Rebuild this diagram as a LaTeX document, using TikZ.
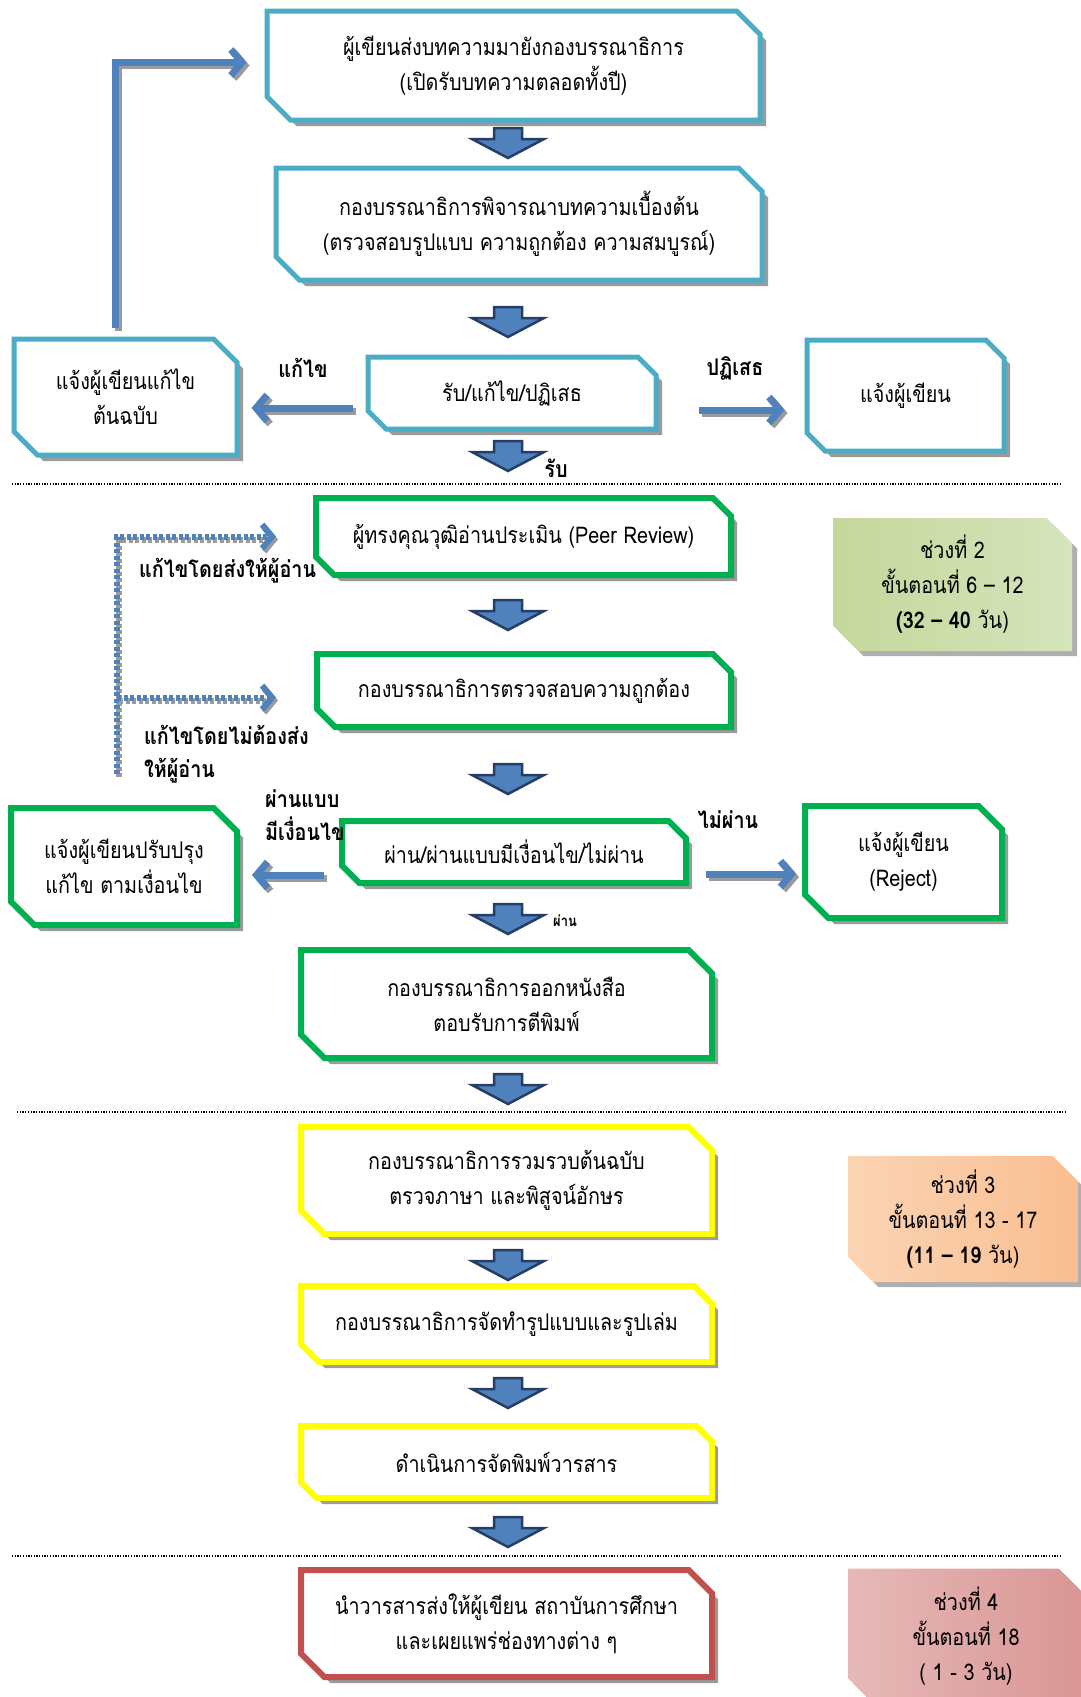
\documentclass[tikz,border=0pt]{standalone}
\usepackage{fontspec}
\setmainfont[Script=Thai,FakeStretch=0.86]{Loma}
\usetikzlibrary{shapes.misc,shadows,arrows.meta,calc,positioning}
\definecolor{boxteal}{RGB}{75,172,198}
\definecolor{boxgreen}{RGB}{0,176,80}
\definecolor{boxyellow}{RGB}{255,255,0}
\definecolor{boxred}{RGB}{192,80,77}
\definecolor{arrowblue}{RGB}{79,129,189}
\definecolor{arrownavy}{RGB}{36,62,102}
\definecolor{shadowgray}{RGB}{155,155,155}
\definecolor{greenA}{RGB}{196,215,155}
\definecolor{greenB}{RGB}{235,241,222}
\definecolor{greenC}{RGB}{214,228,188}
\definecolor{peachA}{RGB}{251,212,180}
\definecolor{peachB}{RGB}{253,236,224}
\definecolor{peachC}{RGB}{249,190,145}
\definecolor{roseA}{RGB}{230,185,184}
\definecolor{roseB}{RGB}{242,220,219}
\definecolor{roseC}{RGB}{217,150,148}
\newcommand{\boxfont}{\fontsize{23}{35}\selectfont}
\newcommand{\labfont}{\fontsize{23}{33}\selectfont\bfseries}
\tikzset{blockarrow/.pic={
  \draw[line width=2.5pt,draw=arrownavy,fill=arrowblue,line join=miter]
    (-14,-15) -- (14,-15) -- (14,-4) -- (36,-4) -- (0,15) -- (-36,-4) -- (-14,-4) -- cycle;}}

\begin{document}
\begin{tikzpicture}[x=1pt,y=-1pt,
    flowbox/.style={chamfered rectangle,chamfered rectangle corners={north east,south west},
      chamfered rectangle xsep=20pt,draw,fill=white,line width=5pt,align=center,
      font=\boxfont,inner sep=2pt,
      drop shadow={shadow xshift=6pt,shadow yshift=-6pt,fill=shadowgray,opacity=1}},
    phasebox/.style={chamfered rectangle,chamfered rectangle corners={north east,south west},
      chamfered rectangle xsep=22pt,align=center,font=\boxfont,inner sep=2pt,
      drop shadow={shadow xshift=5pt,shadow yshift=-5pt,fill=shadowgray!80,opacity=1}},
    sidearrow/.style={draw=arrowblue,line width=7pt,-{Straight Barb[length=11pt,width=26pt]},
      preaction={draw=shadowgray,line width=7pt,-{Straight Barb[length=11pt,width=26pt]},
        transform canvas={shift={(3,3)}}}},
    dotarrow/.style={draw=arrowblue,line width=6pt,dash pattern=on 4pt off 2.5pt,
      -{Straight Barb[length=10pt,width=24pt]},
      preaction={draw=shadowgray,line width=6pt,dash pattern=on 4pt off 2.5pt,
        -{Straight Barb[length=10pt,width=24pt]},transform canvas={shift={(2,3)}}}},
    lab/.style={font=\labfont,inner sep=0pt},
    sepline/.style={line width=1.3pt,dash pattern=on 1.3pt off 1.4pt}]
  \path[use as bounding box,clip] (0,0) rectangle (1081,1697);

  % stage 1
  \node[flowbox,draw=boxteal,minimum width=493pt,minimum height=109pt] (b1) at (513.5,65.5)
    {ผู้เขียนส่งบทความมายังกองบรรณาธิการ\\(เปิดรับบทความตลอดทั้งปี)};
  \node[flowbox,draw=boxteal,minimum width=486pt,minimum height=112pt] (b2) at (519,224)
    {กองบรรณาธิการพิจารณาบทความเบื้องต้น\\(ตรวจสอบรูปแบบ ความถูกต้อง ความสมบูรณ์)};
  \node[flowbox,draw=boxteal,minimum width=288pt,minimum height=72pt] (b3) at (512,393)
    {รับ/แก้ไข/ปฏิเสธ};
  \node[flowbox,draw=boxteal,minimum width=223pt,minimum height=116pt] (fix1) at (125.5,397)
    {แจ้งผู้เขียนแก้ไข\\ต้นฉบับ};
  \node[flowbox,draw=boxteal,minimum width=197pt,minimum height=111pt] (rej1) at (905.5,395.5)
    {แจ้งผู้เขียน};

  \draw[sidearrow] ([xshift=-13pt,yshift=-15pt]b3.west) -- ([xshift=12pt,yshift=-15pt]b3.west -| fix1.east);
  \draw[sidearrow] ([xshift=40pt,yshift=-17pt]b3.east) -- ([xshift=-20pt,yshift=-17pt]b3.east -| rej1.west);
  \draw[sidearrow] ([xshift=-10pt,yshift=9pt]fix1.north) |- ([xshift=-18pt,yshift=3pt]b1.west);
  \node[lab] (lfix) at (303,368) {แก้ไข};
  \node[lab] (lrej) at (735,368) {ปฏิเสธ};
  \node[lab] (lacc) at (556,468) {รับ};

  \draw[sepline] (12,484) -- (1062,484);

  % stage 2
  \node[flowbox,draw=boxgreen,line width=6pt,minimum width=415pt,minimum height=77pt] (b4) at (523.5,536.5)
    {ผู้ทรงคุณวุฒิอ่านประเมิน (Peer Review)};
  \node[flowbox,draw=boxgreen,line width=6pt,minimum width=414pt,minimum height=73pt] (b5) at (524,690.5)
    {กองบรรณาธิการตรวจสอบความถูกต้อง};
  \node[flowbox,draw=boxgreen,line width=6pt,minimum width=344pt,minimum height=62pt] (b6) at (514,852)
    {ผ่าน/ผ่านแบบมีเงื่อนไข/ไม่ผ่าน};
  \node[flowbox,draw=boxgreen,line width=6pt,minimum width=226pt,minimum height=117pt] (fix2) at (124,866.5)
    {แจ้งผู้เขียนปรับปรุง\\แก้ไข ตามเงื่อนไข};
  \node[flowbox,draw=boxgreen,line width=6pt,minimum width=197pt,minimum height=112pt] (rej2) at (903.5,862)
    {แจ้งผู้เขียน\\(Reject)};
  \node[flowbox,draw=boxgreen,line width=6pt,minimum width=411pt,minimum height=108pt] (b7) at (506.5,1004)
    {กองบรรณาธิการออกหนังสือ\\ตอบรับการตีพิมพ์};
  \node[phasebox,left color=greenA,middle color=greenB,right color=greenC,
    minimum width=239pt,minimum height=133pt] (ph2) at (952.5,584.5)
    {ช่วงที่ 2\\ขั้นตอนที่ 6 – 12\\{\bfseries (32 – 40} วัน)};

  \coordinate (fb) at (117,774);
  \draw[dotarrow] (fb) |- ([xshift=-37pt]b4.west);
  \draw[dotarrow] ([yshift=-7pt]b5.west -| fb) -- ([xshift=-38pt,yshift=-7pt]b5.west);
  \node[lab,anchor=west] (lsend) at (139,571) {แก้ไขโดยส่งให้ผู้อ่าน};
  \node[lab,anchor=west,align=left] (lnosend) at (144,754) {แก้ไขโดยไม่ต้องส่ง\\ให้ผู้อ่าน};

  \draw[sidearrow] ([xshift=-15pt,yshift=-23pt]b6.west) -- ([xshift=12pt,yshift=-23pt]b6.west -| fix2.east);
  \draw[sidearrow] ([xshift=17pt,yshift=-22pt]b6.east) -- ([xshift=-6pt,yshift=-22pt]b6.east -| rej2.west);
  \node[lab,anchor=west,align=left] (lcond) at (265,815) {ผ่านแบบ\\มีเงื่อนไข};
  \node[lab] (lfail) at (728,820) {ไม่ผ่าน};
  \node[lab,font=\fontsize{15}{18}\selectfont\bfseries] (lpass) at (565,921) {ผ่าน};

  \draw[sepline] (17,1112) -- (1066,1112);

  % stage 3
  \node[flowbox,draw=boxyellow,line width=6pt,minimum width=411pt,minimum height=107pt] (b8) at (506.5,1180.5)
    {กองบรรณาธิการรวมรวบต้นฉบับ\\ตรวจภาษา และพิสูจน์อักษร};
  \node[flowbox,draw=boxyellow,line width=6pt,minimum width=411pt,minimum height=76pt] (b9) at (506.5,1324)
    {กองบรรณาธิการจัดทำรูปแบบและรูปเล่ม};
  \node[flowbox,draw=boxyellow,line width=6pt,minimum width=411pt,minimum height=72pt] (b10) at (506.5,1462)
    {ดำเนินการจัดพิมพ์วารสาร};
  \node[phasebox,left color=peachA,middle color=peachB,right color=peachC,
    minimum width=230pt,minimum height=126pt] (ph3) at (963,1219)
    {ช่วงที่ 3\\ขั้นตอนที่ 13 - 17\\{\bfseries (11 – 19} วัน)};

  \draw[sepline] (12,1556) -- (1060,1556);

  % stage 4
  \node[flowbox,draw=boxred,line width=6pt,minimum width=411pt,minimum height=107pt] (b11) at (506.5,1623.5)
    {นำวารสารส่งให้ผู้เขียน สถาบันการศึกษา\\และเผยแพร่ช่องทางต่าง ๆ};
  \node[phasebox,left color=roseA,middle color=roseB,right color=roseC,
    minimum width=236pt,minimum height=135pt] (ph4) at (966,1636)
    {ช่วงที่ 4\\ขั้นตอนที่ 18\\( 1 - 3 วัน)};

  % block arrows
  \pic at (508,143) {blockarrow};
  \pic at (508,322) {blockarrow};
  \pic at (508,456) {blockarrow};
  \pic at (508,615) {blockarrow};
  \pic at (508,779) {blockarrow};
  \pic at (508,919) {blockarrow};
  \pic at (508,1089) {blockarrow};
  \pic at (508,1265) {blockarrow};
  \pic at (508,1393) {blockarrow};
  \pic at (508,1532) {blockarrow};
\end{tikzpicture}
\end{document}
